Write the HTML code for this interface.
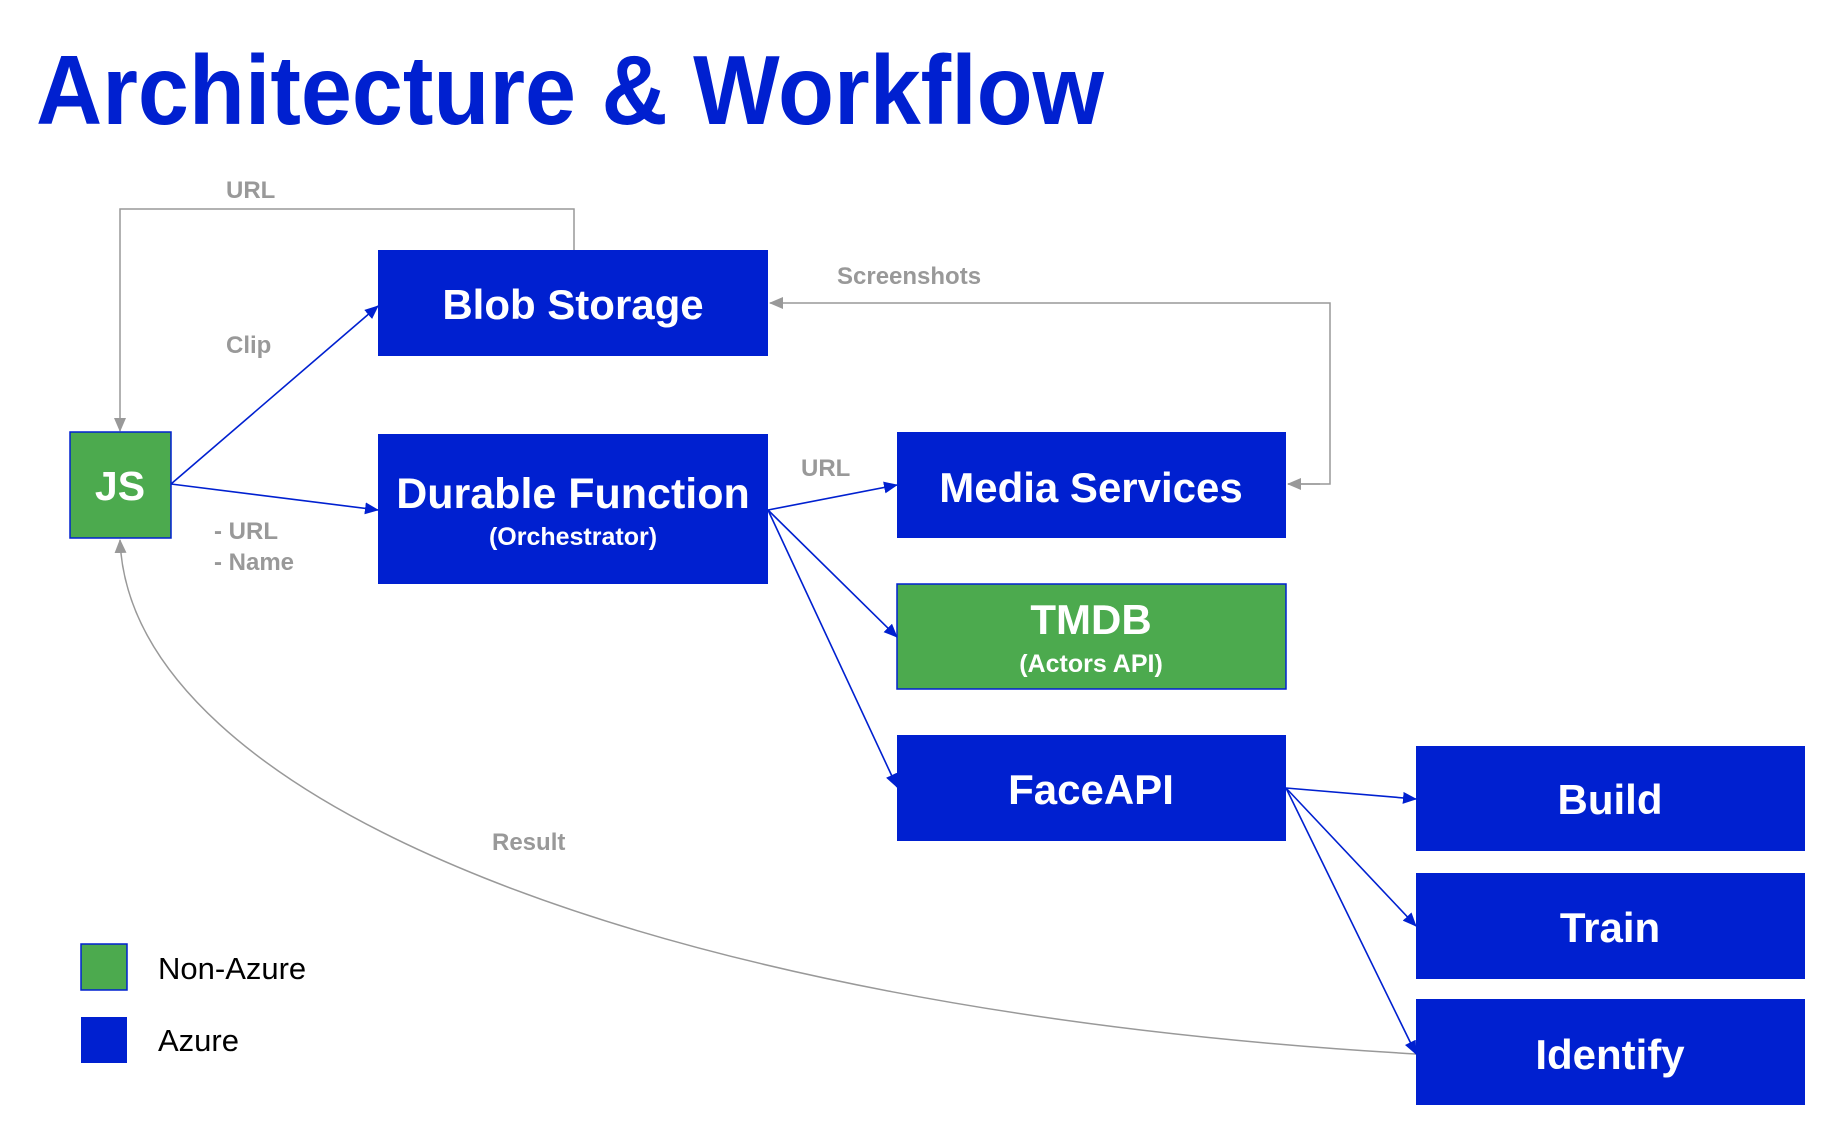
<!DOCTYPE html>
<html><head><meta charset="utf-8"><style>
html,body{margin:0;padding:0;background:#fff;}
svg{display:block;font-family:"Liberation Sans",Arial,sans-serif;}
</style></head><body>
<svg width="1844" height="1126" viewBox="0 0 1844 1126" xmlns="http://www.w3.org/2000/svg">
<defs>
<marker id="ab" markerWidth="14" markerHeight="12" refX="13" refY="6" orient="auto" markerUnits="userSpaceOnUse"><path d="M0,0 L14,6 L0,12 z" fill="#0020d0"/></marker>
<marker id="ag" markerWidth="14" markerHeight="12" refX="13" refY="6" orient="auto" markerUnits="userSpaceOnUse"><path d="M0,0 L14,6 L0,12 z" fill="#999"/></marker>
</defs>
<text x="36" y="124" font-size="98" font-weight="bold" fill="#0020d0" textLength="1068" lengthAdjust="spacingAndGlyphs">Architecture &amp; Workflow</text>

<polyline points="574,250 574,209 120,209 120,431" fill="none" stroke="#999" stroke-width="1.5" marker-end="url(#ag)"/>
<polyline points="1288,484 1330,484 1330,303 770,303" fill="none" stroke="#999" stroke-width="1.5" marker-end="url(#ag)"/>
<line x1="1320" y1="484" x2="1288" y2="484" stroke="#999" stroke-width="1.5" marker-end="url(#ag)"/>
<path d="M1416,1054 C650,1010 130,800 120,540" fill="none" stroke="#999" stroke-width="1.5" marker-end="url(#ag)"/>

<g stroke="#0020d0" stroke-width="1.6" fill="none" marker-end="url(#ab)">
<line x1="171" y1="484" x2="378" y2="306"/>
<line x1="171" y1="484" x2="378" y2="510"/>
<line x1="768" y1="510" x2="897" y2="485"/>
<line x1="768" y1="510" x2="897" y2="637"/>
<line x1="768" y1="510" x2="897" y2="787"/>
<line x1="1286" y1="788" x2="1416" y2="799"/>
<line x1="1286" y1="788" x2="1416" y2="926"/>
<line x1="1286" y1="788" x2="1416" y2="1054"/>
</g>

<g fill="#0020d0">
<rect x="378" y="250" width="390" height="106"/>
<rect x="378" y="434" width="390" height="150"/>
<rect x="897" y="432" width="389" height="106"/>
<rect x="897" y="735" width="389" height="106"/>
<rect x="1416" y="746" width="389" height="105"/>
<rect x="1416" y="873" width="389" height="106"/>
<rect x="1416" y="999" width="389" height="106"/>
<rect x="81" y="1017" width="46" height="46"/>
</g>
<g fill="#4caa4e" stroke="#0020d0" stroke-width="1.5">
<rect x="70" y="432" width="101" height="106"/>
<rect x="897" y="584" width="389" height="105"/>
<rect x="81" y="944" width="46" height="46"/>
</g>

<g fill="#fff" font-weight="bold" text-anchor="middle">
<text x="573" y="319" font-size="42">Blob Storage</text>
<text x="573" y="508" font-size="43">Durable Function</text>
<text x="573" y="545" font-size="25">(Orchestrator)</text>
<text x="120" y="500" font-size="41">JS</text>
<text x="1091" y="502" font-size="42">Media Services</text>
<text x="1091" y="634" font-size="42">TMDB</text>
<text x="1091" y="672" font-size="25">(Actors API)</text>
<text x="1091" y="804" font-size="42">FaceAPI</text>
<text x="1610" y="814" font-size="42">Build</text>
<text x="1610" y="942" font-size="42">Train</text>
<text x="1610" y="1069" font-size="42">Identify</text>
</g>

<g fill="#999" font-weight="bold" font-size="24">
<text x="226" y="198">URL</text>
<text x="226" y="353">Clip</text>
<text x="837" y="284">Screenshots</text>
<text x="801" y="476">URL</text>
<text x="214" y="539">- URL</text>
<text x="214" y="570">- Name</text>
<text x="492" y="850">Result</text>
</g>

<g fill="#000" font-size="31">
<text x="158" y="979">Non-Azure</text>
<text x="158" y="1051">Azure</text>
</g>
</svg>
</body></html>
